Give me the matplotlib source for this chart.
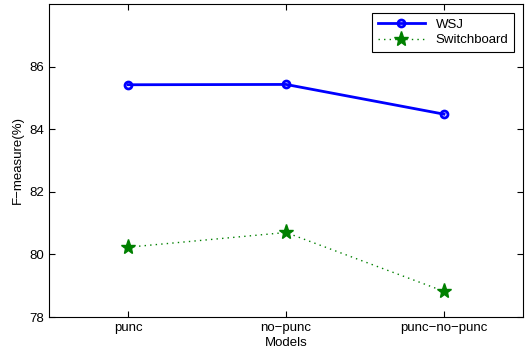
import matplotlib
matplotlib.use('Agg')
import matplotlib.pyplot as plt

plt.rcParams['font.family'] = ['Liberation Sans', 'DejaVu Sans']

# Data
models = ['punc', 'no\u2212punc', 'punc\u2212no\u2212punc']
wsj = [85.42, 85.43, 84.48]
switchboard = [80.23, 80.70, 78.82]
positions = [1, 2, 3]

fig = plt.figure(figsize=(5.25, 3.54), dpi=100)
ax = fig.add_axes([49 / 525, 1 - 317 / 354, 474 / 525, 313 / 354])

ax.plot(positions, wsj, color='blue', linewidth=2, marker='o', markersize=5,
        markerfacecolor='none', markeredgewidth=2, label='WSJ')
ax.plot(positions, switchboard, color='green', linewidth=1, linestyle=(0, (1, 3)),
        marker='*', markersize=11, markerfacecolor='green', markeredgecolor='green',
        label='Switchboard')

ax.set_xlim(0.5, 3.5)
ax.set_ylim(78, 88)
ax.set_xticks(positions)
ax.set_xticklabels(models)
ax.set_yticks([78, 80, 82, 84, 86])
ax.tick_params(direction='in', top=True, right=True, labelsize=9.5, length=4, width=0.8)
ax.set_xlabel('Models', fontsize=9.5, labelpad=2)
ax.set_ylabel('F\u2212measure(%)', fontsize=9.5)
for s in ax.spines.values():
    s.set_linewidth(0.8)

leg = ax.legend(loc='upper right', fontsize=9.5, fancybox=False, framealpha=1,
                edgecolor='black', borderaxespad=0.7, handlelength=3.6,
                borderpad=0.4, labelspacing=0.25)
leg.get_frame().set_linewidth(0.8)

fig.savefig('out.png', dpi=100)
